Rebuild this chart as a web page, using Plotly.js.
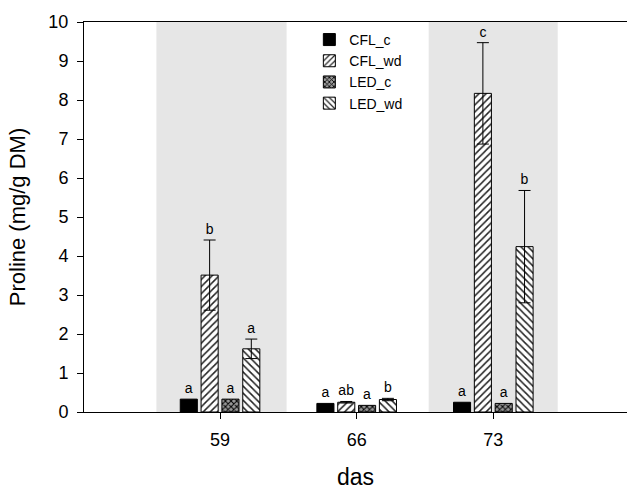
<!DOCTYPE html>
<html>
<head>
<meta charset="utf-8">
<script src="https://cdn.plot.ly/plotly-3.0.1.min.js"></script>
<style>html,body{margin:0;padding:0;background:#fff;}#chart{width:627px;height:490px;}</style>
</head>
<body>
<div id="chart"></div>
<script>
// ---- data ----
var days = [59, 66, 73];
var seriesNames = ["CFL_c", "CFL_wd", "LED_c", "LED_wd"];
var cflC = [0.33, 0.22, 0.25];
var cflWd = [3.51, 0.25, 8.17];
var ledC = [0.33, 0.17, 0.22];
var ledWd = [1.62, 0.32, 4.24];
var cflCErr = [0, 0, 0];
var cflWdErr = [0.90, 0.02, 1.30];
var ledCErr = [0, 0, 0];
var ledWdErr = [0.25, 0.03, 1.44];
var cflCLetters = ["a", "a", "a"];
var cflWdLetters = ["b", "ab", "c"];
var ledCLetters = ["a", "a", "a"];
var ledWdLetters = ["a", "b", "b"];
var yTicks = [0,1,2,3,4,5,6,7,8,9,10];

var FONT = "Liberation Sans, Arial, sans-serif";
var values = [cflC, cflWd, ledC, ledWd];
var errs = [cflCErr, cflWdErr, ledCErr, ledWdErr];
var letters = [cflCLetters, cflWdLetters, ledCLetters, ledWdLetters];
var patterns = [
  {shape: "", fgcolor: "#000", bgcolor: "#000"},
  {shape: "/", fgcolor: "#222", bgcolor: "#fff", size: 5, solidity: 0.3},
  {shape: "x", fgcolor: "#000", bgcolor: "#999", size: 4, solidity: 0.45},
  {shape: "\\", fgcolor: "#222", bgcolor: "#fff", size: 5, solidity: 0.3}
];
var colors = ["#000", "#fff", "#999", "#fff"];

var traces = [];
for (var i = 0; i < 4; i++) {
  var hasErr = errs[i].some(function(e){return e > 0;});
  traces.push({
    type: "bar", name: seriesNames[i], x: days, y: values[i],
    offsetgroup: String(i),
    marker: {color: colors[i], line: {color: "#000", width: 1}, pattern: patterns[i]},
    error_y: hasErr ? {type: "data", array: errs[i], visible: true, color: "#000", thickness: 1, width: 6} : {visible: false},
    hoverinfo: "skip"
  });
}
for (var j = 0; j < 4; j++) {
  var tops = values[j].map(function(v, k){ return v + errs[j][k]; });
  traces.push({
    type: "bar", x: days, base: tops, y: tops.map(function(){ return 0.001; }),
    offsetgroup: String(j), showlegend: false, hoverinfo: "skip",
    marker: {color: "rgba(0,0,0,0)", line: {width: 0}},
    text: letters[j], textposition: "outside", cliponaxis: false,
    textfont: {family: FONT, size: 14, color: "#000"},
    outsidetextfont: {family: FONT, size: 14, color: "#000"}
  });
}

var layout = {
  width: 627, height: 490,
  margin: {l: 84, r: 0, t: 22, b: 78},
  paper_bgcolor: "#fff", plot_bgcolor: "#fff",
  barmode: "group", bargap: 0.39, bargroupgap: 0.18,
  font: {family: FONT, size: 14, color: "#000"},
  showlegend: true,
  legend: {x: 0.415, y: 0.995, xanchor: "left", yanchor: "top", bgcolor: "rgba(0,0,0,0)",
           font: {family: FONT, size: 14}, tracegroupgap: 0, itemwidth: 30},
  xaxis: {range: [52.03, 79.85], tickvals: days, ticktext: days.map(String),
          ticks: "outside", ticklen: 6, tickcolor: "#000", showline: true, linecolor: "#000",
          linewidth: 1, mirror: true, showgrid: false, zeroline: false, ticklabelstandoff: 5,
          tickfont: {size: 18}, automargin: false,
          title: {text: "das", font: {size: 23}, standoff: 26}},
  yaxis: {range: [0, 10], tickvals: yTicks, ticks: "outside", ticklen: 6, tickcolor: "#000",
          showline: true, linecolor: "#000", linewidth: 1, showgrid: false, zeroline: false,
          ticklabelstandoff: 5, tickfont: {size: 18}, automargin: false,
          title: {text: "Proline (mg/g DM)", font: {size: 22}, standoff: 16}},
  shapes: [
    {type: "rect", xref: "x", yref: "paper", x0: 55.74, x1: 62.41, y0: 0, y1: 1, fillcolor: "#e6e6e6", line: {width: 0}, layer: "below"},
    {type: "rect", xref: "x", yref: "paper", x0: 69.69, x1: 76.3, y0: 0, y1: 1, fillcolor: "#e6e6e6", line: {width: 0}, layer: "below"}
  ]
};
Plotly.newPlot("chart", traces, layout, {displayModeBar: false, staticPlot: true});
</script>
</body>
</html>
